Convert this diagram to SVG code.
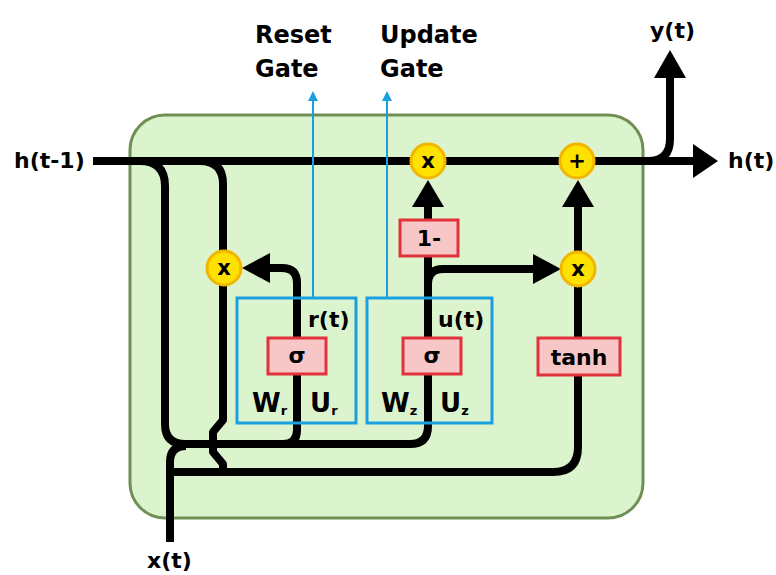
<svg xmlns="http://www.w3.org/2000/svg" width="776" height="575" viewBox="0 0 776 575">
<style>
text{font-family:"DejaVu Sans","Liberation Sans",sans-serif;font-weight:bold;fill:#000}
.lbl{font-size:22px}
.gate{font-size:24px}
.wu{font-size:26px}
.sub{font-size:13px}
.ln{fill:none;stroke:#000;stroke-width:8;stroke-linecap:butt;stroke-linejoin:round}
.ah{fill:#000}
.blue{fill:none;stroke:#1a9fe0;stroke-width:2}
.bbox{fill:none;stroke:#1a9fe0;stroke-width:3}
.bah{fill:#1a9fe0}
.op{fill:#f7c6c6;stroke:#e0323a;stroke-width:3}
.pt{fill:#ffe100;stroke:#f2b600;stroke-width:3}
.c{text-anchor:middle}
.pm{font-size:21px}
</style>
<rect id="cell" x="130" y="115" width="513" height="403" rx="35" fill="#dcf4cd" stroke="#6f8f55" stroke-width="3"/>
<g id="connectors">
<path class="ln" d="M93,161 H696"/>
<polygon class="ah" points="693,144 718,161 693,178"/>
<path class="ln" d="M648,161 Q670,161 670,139 V76"/>
<polygon class="ah" points="654,78 670,50 686,78"/>
<path class="ln" d="M140,161 Q165,161 165,186 V424 Q165,444 185,444 H410 Q428,444 428,426 V256"/>
<path class="ln" d="M283,444 Q297,444 297,430 V283 Q297,268 282,268 H268"/>
<polygon class="ah" points="270,253 242,268 270,283"/>
<path class="ln" d="M200,161 Q223,161 223,184 V420 L213,432 V452 L223,464 V472"/>
<path class="ln" d="M170,542 V462 Q170,446 186,446"/>
<path class="ln" d="M170,472 H553 Q578,472 578,447 V375"/>
<path class="ln" d="M578,338 V285"/>
<path class="ln" d="M578,253 V205"/>
<polygon class="ah" points="562,207 578,180 594,207"/>
<path class="ln" d="M428,220 V205"/>
<polygon class="ah" points="412,207 428,180 444,207"/>
<path class="ln" d="M428,284 Q428,269 443,269 H535"/>
<polygon class="ah" points="533,254 561,269 533,284"/>
<path class="blue" d="M313,298 V99"/>
<polygon class="bah" points="313,91 308,101 318,101"/>
<path class="blue" d="M387,298 V99"/>
<polygon class="bah" points="387,91 382,101 392,101"/>
</g>
<g id="reset-gate">
<rect class="bbox" x="237" y="298" width="119" height="125"/>
<text class="lbl" x="308" y="327">r(t)</text>
<text class="wu" x="252" y="412">W<tspan class="sub" dy="3">r</tspan></text>
<text class="wu" x="310" y="412">U<tspan class="sub" dy="3">r</tspan></text>
</g>
<g id="update-gate">
<rect class="bbox" x="367" y="298" width="125" height="125"/>
<text class="lbl" x="438" y="327">u(t)</text>
<text class="wu" x="381" y="412">W<tspan class="sub" dy="3">z</tspan></text>
<text class="wu" x="440" y="412">U<tspan class="sub" dy="3">z</tspan></text>
</g>
<g id="sigma-r">
<rect class="op" x="268" y="338" width="58" height="36"/>
<text class="lbl c" x="297" y="363">σ</text>
</g>
<g id="sigma-u">
<rect class="op" x="403" y="338" width="58" height="36"/>
<text class="lbl c" x="432" y="363">σ</text>
</g>
<g id="one-minus">
<rect class="op" x="400" y="220" width="58" height="36"/>
<text class="lbl c" x="429" y="246">1-</text>
</g>
<g id="tanh">
<rect class="op" x="538" y="338" width="82" height="37"/>
<text class="lbl c" x="579" y="365">tanh</text>
</g>
<g id="mul-reset">
<circle class="pt" cx="224" cy="268" r="17"/>
<text class="c pm" x="224" y="275">x</text>
</g>
<g id="mul-top">
<circle class="pt" cx="428" cy="161" r="17"/>
<text class="c pm" x="428" y="168">x</text>
</g>
<g id="mul-right">
<circle class="pt" cx="578" cy="269" r="17"/>
<text class="c pm" x="578" y="276">x</text>
</g>
<g id="add">
<circle class="pt" cx="577" cy="161" r="17"/>
<text class="c pm" x="577" y="168">+</text>
</g>
<g id="labels">
<text class="gate" x="255" y="43">Reset</text>
<text class="gate" x="255" y="77">Gate</text>
<text class="gate" x="380" y="43">Update</text>
<text class="gate" x="380" y="77">Gate</text>
<text class="lbl" x="650" y="38">y(t)</text>
<text class="lbl" x="728" y="168">h(t)</text>
<text class="lbl" x="14" y="168">h(t-1)</text>
<text class="lbl" x="147" y="568">x(t)</text>
</g>
</svg>
